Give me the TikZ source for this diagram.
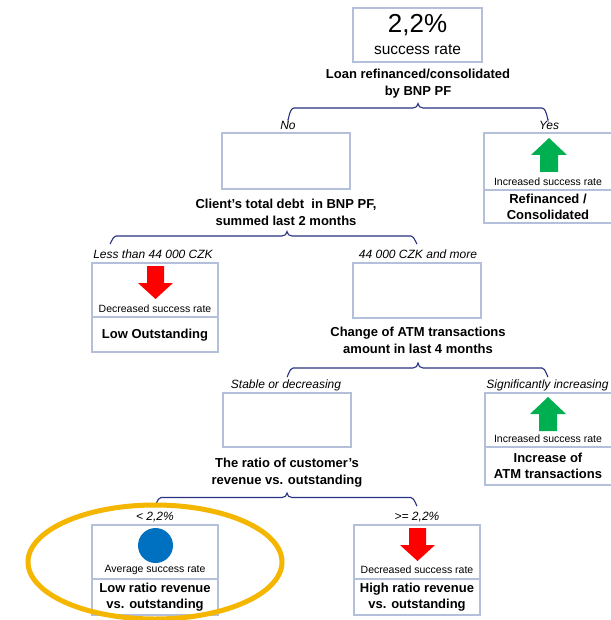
\documentclass[tikz,border=0pt]{standalone}
\usepackage{fontspec}
\setmainfont{Liberation Sans}
\definecolor{boxc}{RGB}{180,192,218}
\definecolor{bracec}{RGB}{40,50,130}
\definecolor{greenc}{RGB}{0,176,80}
\definecolor{redc}{RGB}{255,0,0}
\definecolor{bluec}{RGB}{0,112,192}
\definecolor{orangec}{RGB}{245,182,0}
\begin{document}
\begin{tikzpicture}[x=1pt,y=-1pt,
  box/.style={draw=boxc, line width=2pt, fill=white, inner sep=0pt, minimum width=127pt},
  cond/.style={font=\bfseries\fontsize{13}{16.5}\selectfont, align=center, inner sep=0pt},
  res/.style={font=\bfseries\fontsize{13}{16}\selectfont, align=center, inner sep=0pt},
  branch/.style={font=\itshape\fontsize{12}{13}\selectfont, inner sep=0pt},
  small/.style={font=\fontsize{10.5}{12}\selectfont, inner sep=0pt},
  bracepath/.style={draw=bracec, line width=1.1pt},
  uparrow/.pic={\fill[greenc] (-9,34)--(-9,17)--(-18,17)--(0,0)--(18,17)--(9,17)--(9,34)--cycle;},
  downarrow/.pic={\fill[redc] (-8.5,0)--(-8.5,17)--(-17.5,17)--(0,33)--(17.5,17)--(8.5,17)--(8.5,0)--cycle;}
]
\useasboundingbox (0,0) rectangle (610,620);
\fill[white] (0,0) rectangle (610,620);

% ---------- root ----------
\node[box, minimum width=129pt, minimum height=54pt] (root) at (417.5,35) {};
\node[inner sep=0pt, font=\fontsize{26}{28}\selectfont] (rate) at (417.5,25) {2,2\%};
\node[inner sep=0pt, font=\fontsize{15.5}{17}\selectfont] (ratelbl) at (417.5,50) {success rate};
\node[cond] (c1) at (418,83.5) {Loan refinanced/consolidated\\by BNP PF};

% brace 1
\draw[bracepath] (288,119) to[out=-90,in=180] (294,108) -- (413,108) to[out=0,in=-90] (418,103.5) to[out=-90,in=180] (423,108) -- (542,108) to[out=0,in=-90] (548,119);
\node[branch] (no) at (288,125.5) {No};
\node[branch] (yes) at (549,125.5) {Yes};

% ---------- No branch ----------
\node[box, minimum width=128pt, minimum height=56pt] (nobox) at (286,161) {};
\node[cond] (c2) at (286,212.5) {Client's total debt\ \ in BNP PF,\\summed last 2 months};

% ---------- Yes branch ----------
\node[box, minimum width=128pt, minimum height=57pt] (yestop) at (548,161.5) {};
\node[box, minimum width=128pt, minimum height=33pt] (yesbot) at (548,206.5) {};
\pic at (549,138) {uparrow};
\node[small] (yestxt) at (548,182) {Increased success rate};
\node[res] (yesres) at (548,206.5) {Refinanced /\\Consolidated};

% brace 2
\draw[bracepath] (110,243) to[out=-90,in=180] (116,236) -- (282,236) to[out=0,in=-90] (287,231.5) to[out=-90,in=180] (292,236) -- (411,236) to[out=0,in=-90] (417,243);
\node[branch] (less) at (153,254) {Less than 44 000 CZK};
\node[branch] (more) at (418,254) {44 000 CZK and more};

% ---------- Low outstanding ----------
\node[box, minimum width=126pt, minimum height=54pt] (lowtop) at (155,290) {};
\node[box, minimum width=126pt, minimum height=35pt] (lowbot) at (155,334.5) {};
\pic at (155.5,266) {downarrow};
\node[small] (lowtxt) at (155,309) {Decreased success rate};
\node[res] (lowres) at (155,335) {Low Outstanding};

% ---------- 44000 and more ----------
\node[box, minimum width=128pt, minimum height=55pt] (midbox) at (417,290.5) {};
\node[cond] (c3) at (418,340.5) {Change of ATM transactions\\amount in last 4 months};

% brace 3
\draw[bracepath] (287,376) to[out=-90,in=180] (293,368) -- (413,368) to[out=0,in=-90] (418,363) to[out=-90,in=180] (423,368) -- (542,368) to[out=0,in=-90] (548,376);
\node[branch] (stable) at (286,385) {Stable or decreasing};
\node[branch] (sig) at (547.5,385) {Significantly increasing};

% ---------- Stable ----------
\node[box, minimum width=128pt, minimum height=54pt] (stablebox) at (287,420) {};
\node[cond] (c4) at (287,472.5) {The ratio of customer's\\revenue vs. outstanding};

% ---------- Significantly increasing ----------
\node[box, minimum width=128pt, minimum height=54pt] (sigtop) at (549,420) {};
\node[box, minimum width=128pt, minimum height=38pt] (sigbot) at (549,466) {};
\pic at (548,397) {uparrow};
\node[small] (sigtxt) at (548,439) {Increased success rate};
\node[res] (sigres) at (548,466) {Increase of\\ATM transactions};

% brace 4
\draw[bracepath] (155,505) to[out=-90,in=180] (161,497.5) -- (282,497.5) to[out=0,in=-90] (287,493) to[out=-90,in=180] (292,497.5) -- (411,497.5) to[out=0,in=-90] (417,505);
\node[branch] (lt) at (155,517) {< 2,2\%};
\node[branch] (ge) at (417,517) {>= 2,2\%};

% ---------- Low ratio ----------
\node[box, minimum width=126pt, minimum height=54pt] (lrtop) at (155,552) {};
\node[box, minimum width=126pt, minimum height=36pt] (lrbot) at (155,597) {};
\node[circle, fill=bluec, minimum size=35pt, inner sep=0pt] (dot) at (155.5,545.5) {};
\node[small] (lrtxt) at (155,570) {Average success rate};
\node[res] (lrres) at (155,597.5) {Low ratio revenue\\vs. outstanding};

% ---------- High ratio ----------
\node[box, minimum width=126pt, minimum height=54pt] (hrtop) at (417,552) {};
\node[box, minimum width=126pt, minimum height=36pt] (hrbot) at (417,597) {};
\pic at (417.5,528) {downarrow};
\node[small] (hrtxt) at (417,570) {Decreased success rate};
\node[res] (hrres) at (417,597.5) {High ratio revenue\\vs. outstanding};

% ---------- highlight ----------
\draw[orangec, line width=5pt] (155,562) ellipse [x radius=127, y radius=57];
\end{tikzpicture}
\end{document}
